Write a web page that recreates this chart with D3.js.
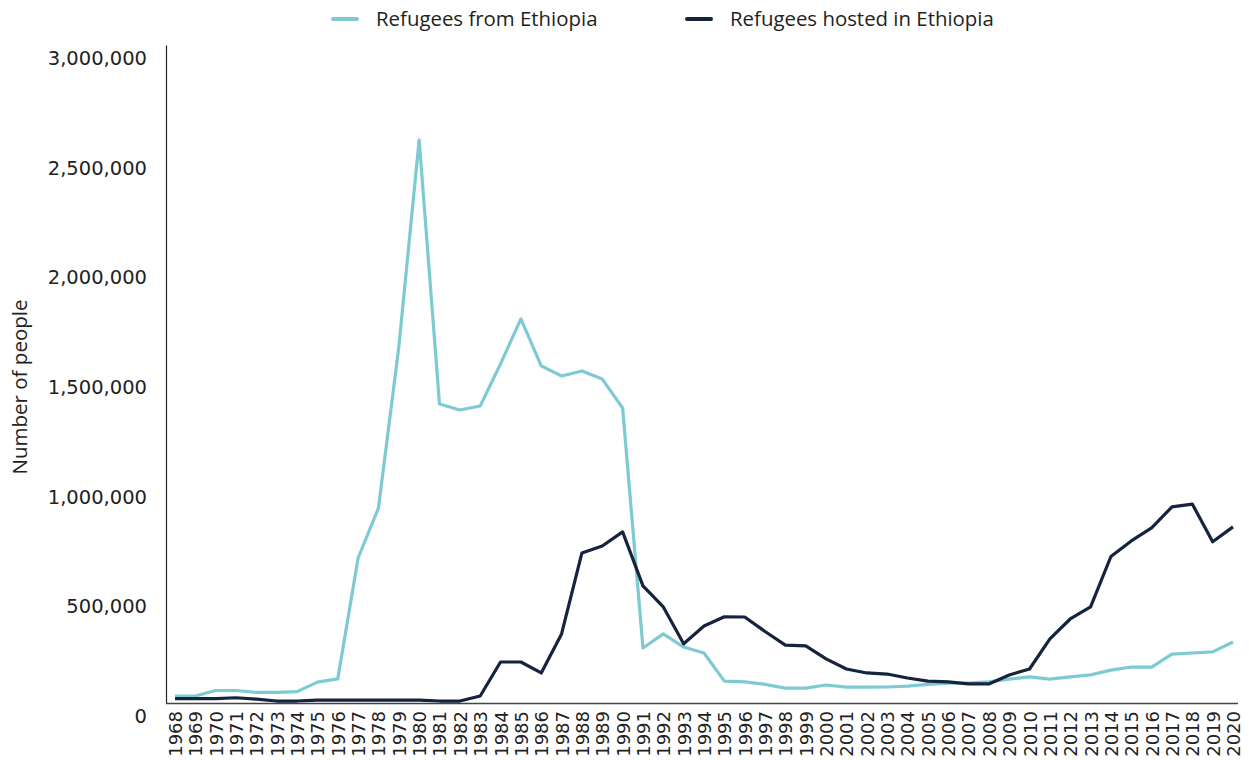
<!DOCTYPE html>
<html>
<head>
<meta charset="utf-8">
<script src="https://cdn.jsdelivr.net/npm/d3@7"></script>
<style>
  html, body { margin: 0; padding: 0; background: #fff; }
  svg { display: block; }
</style>
</head>
<body>
<svg id="chart" width="1249" height="760"></svg>
<script>
const years = d3.range(1968, 2021);
const seriesNames = ["Refugees from Ethiopia", "Refugees hosted in Ethiopia"];
const seriesColors = ["#7dcad3", "#15233f"];
const refugeesFrom = [
  32000, 32000, 57000, 57000, 48000, 48000, 52000, 95000, 110000, 661000,
  889000, 1623000, 2567000, 1363000, 1336000, 1354000, 1546000, 1751000, 1537000, 1491000,
  1514000, 1477000, 1345000, 251000, 315000, 255000, 228000, 100000, 96000, 85000,
  68000, 68000, 82000, 72000, 72000, 73000, 77000, 85000, 91000, 91000,
  96000, 109000, 119000, 109000, 119000, 128000, 150000, 164000, 164000, 223000,
  228000, 233000, 278000
];
const refugeesHosted = [
  20000, 20000, 20000, 24000, 18000, 9000, 9000, 13000, 13000, 13000,
  13000, 13000, 13000, 9000, 9000, 32000, 187000, 187000, 137000, 315000,
  684000, 716000, 780000, 534000, 438000, 270000, 351000, 393000, 392000, 326000,
  264000, 260000, 201000, 155000, 137000, 132000, 114000, 100000, 96000, 87000,
  87000, 128000, 155000, 292000, 383000, 438000, 668000, 739000, 798000, 894000,
  907000, 735000, 803000
];
const yTicks = [0, 500000, 1000000, 1500000, 2000000, 2500000, 3000000];

const svg = d3.select("#chart");
const plotLeft = 166, plotRight = 1238, plotTop = 45, plotBottom = 703;

const x = d3.scalePoint().domain(years).range([175, 1233]);
const y = d3.scaleLinear().domain([0, 3000000]).range([plotBottom, plotTop]);

const labelFont = "'DejaVu Sans', sans-serif";
const titleFont = "'Open Sans', sans-serif";

// Y axis
const yAxis = svg.append("g").attr("transform", `translate(${plotLeft},0)`)
  .call(d3.axisLeft(y).tickValues(yTicks).tickSize(0).tickPadding(19)
    .tickFormat(d => d3.format(",")(d)));
yAxis.select(".domain").attr("stroke", "#222").attr("stroke-width", 1.2);
yAxis.selectAll("text").attr("font-family", labelFont).attr("font-size", 19.5)
  .attr("fill", "#222").attr("dy", "1.0em");

// X axis
const xAxis = svg.append("g").attr("transform", `translate(0,${plotBottom})`)
  .call(d3.axisBottom(x).tickSize(0).tickFormat(d => String(d)));
xAxis.select(".domain").attr("d", `M${plotLeft},0.5H${plotRight}`).attr("stroke", "#444").attr("stroke-width", 1.5);
xAxis.selectAll("text")
  .attr("font-family", labelFont).attr("font-size", 18).attr("fill", "#222")
  .attr("text-anchor", "end")
  .attr("transform", "rotate(-90)")
  .attr("x", -8).attr("y", 0).attr("dy", "0.36em");

// Y title
svg.append("text")
  .attr("transform", `translate(27,387) rotate(-90)`)
  .attr("text-anchor", "middle")
  .attr("font-family", titleFont).attr("font-size", 20.5).attr("fill", "#222")
  .text("Number of people");

// Lines
const line = d3.line().x((d, i) => x(years[i])).y(d => y(d));
[refugeesFrom, refugeesHosted].forEach((vals, k) => {
  svg.append("path").datum(vals)
    .attr("fill", "none").attr("stroke", seriesColors[k])
    .attr("stroke-width", 3.2).attr("stroke-linejoin", "round")
    .attr("d", line);
});

// Legend
const legendX = [333, 687];
seriesNames.forEach((name, k) => {
  const g = svg.append("g").attr("transform", `translate(${legendX[k]},19)`);
  g.append("line").attr("x1", 0).attr("x2", 24).attr("y1", 0).attr("y2", 0)
    .attr("stroke", seriesColors[k]).attr("stroke-width", 4).attr("stroke-linecap", "round");
  g.append("text").attr("x", 43).attr("y", 0).attr("dy", "0.35em")
    .attr("font-family", titleFont).attr("font-size", 20.4).attr("fill", "#222")
    .text(name);
});
</script>
</body>
</html>
